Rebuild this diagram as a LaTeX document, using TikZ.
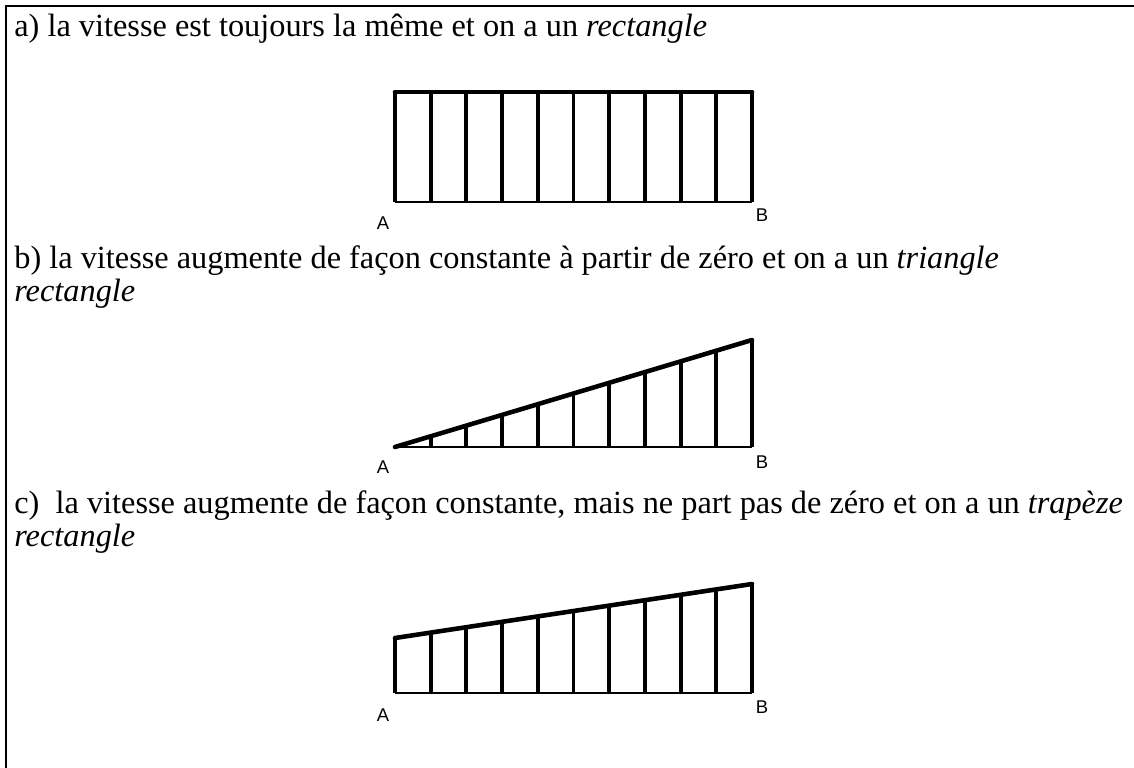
\documentclass[tikz,border=0pt]{standalone}
\usepackage{fontspec}
\setmainfont{Liberation Serif}
\newfontfamily\labelfont{Liberation Sans}
\usetikzlibrary{calc}
\tikzset{
  linetext/.style={anchor=base west, inner sep=0pt, font=\fontsize{18.4}{18.4}\selectfont},
  cellrule/.style={line width=1.2pt},
  groundline/.style={line width=0.6pt},
  speedbar/.style={line width=2.2pt},
  topline/.style={line width=2.6pt, line cap=round},
  endlabel/.style={inner sep=0pt, font=\labelfont\fontsize{10.5}{10.5}\selectfont}
}

\begin{document}
\begin{tikzpicture}[x=0.02cm,y=-0.02cm]
  \useasboundingbox (0,0) rectangle (1134,768);
  \draw[cellrule] (6,768) -- (6,6) -- (1134,6);

  % texts
  \node[linetext] (ta) at (14,36) {a) la vitesse est toujours la même et on a un \textit{rectangle}};
  \node[linetext] (tb) at (14,268) {b) la vitesse augmente de façon constante à partir de zéro et on a un \textit{triangle}};
  \node[linetext] (tb2) at (14,301) {\textit{rectangle}};
  \node[linetext] (tc) at (14,513) {c)\ \ la vitesse augmente de façon constante, mais ne part pas de zéro et on a un \textit{trapèze}};
  \node[linetext] (tc2) at (14,546) {\textit{rectangle}};

  % a) rectangle
  \coordinate (aA) at (395,202);
  \coordinate (aB) at (752,202);
  \coordinate (aL) at (395,92);
  \coordinate (aR) at (752,92);
  \draw[groundline] (aA) -- (aB);
  \draw[topline] (aL) -- (aR);
  \foreach \i in {0,...,10}
    \draw[speedbar] ($(aA)!\i/10!(aB)$) -- ($(aL)!\i/10!(aR)$);
  \node[endlabel] (aAl) at (383,223) {A};
  \node[endlabel] (aBl) at (762,215) {B};

  % b) triangle rectangle
  \coordinate (bA) at (395,447);
  \coordinate (bB) at (752,447);
  \coordinate (bR) at (752,340);
  \draw[groundline] (bA) -- (bB);
  \draw[topline] (bA) -- (bR);
  \foreach \i in {1,...,10}
    \draw[speedbar] ($(bA)!\i/10!(bB)$) -- ($(bA)!\i/10!(bR)$);
  \node[endlabel] (bAl) at (383,467) {A};
  \node[endlabel] (bBl) at (762,462) {B};

  % c) trapeze rectangle
  \coordinate (cA) at (395,693);
  \coordinate (cB) at (752,693);
  \coordinate (cL) at (395,638);
  \coordinate (cR) at (752,584);
  \draw[groundline] (cA) -- (cB);
  \draw[topline] (cL) -- (cR);
  \foreach \i in {0,...,10}
    \draw[speedbar] ($(cA)!\i/10!(cB)$) -- ($(cL)!\i/10!(cR)$);
  \node[endlabel] (cAl) at (383,715) {A};
  \node[endlabel] (cBl) at (762,707) {B};
\end{tikzpicture}
\end{document}
